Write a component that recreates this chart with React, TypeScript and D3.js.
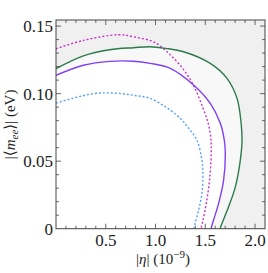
import React from "react";
import * as d3 from "d3";

// data: [ |eta| (1e-9), |<m_ee>| (eV) ]
const greenCurve: [number, number][] = [
  [0, 0.1185], [0.275, 0.128], [0.54, 0.1325], [0.78, 0.134], [0.946, 0.1347], [1.1, 0.1335],
  [1.281, 0.131], [1.55, 0.1224], [1.718, 0.1113], [1.819, 0.0965], [1.859, 0.0788],
  [1.869, 0.0655], [1.852, 0.0508], [1.802, 0.031], [1.734, 0.0162], [1.668, 0.004], [1.648, 0],
];
const purpleCurve: [number, number][] = [
  [0, 0.1135], [0.275, 0.121], [0.54, 0.1239], [0.78, 0.124], [0.946, 0.1224], [1.148, 0.1187],
  [1.382, 0.1064], [1.55, 0.0928], [1.651, 0.078], [1.691, 0.0655], [1.701, 0.0557],
  [1.684, 0.036], [1.634, 0.0188], [1.583, 0.0064], [1.557, 0],
];
const magentaCurve: [number, number][] = [
  [0, 0.1332], [0.275, 0.1394], [0.627, 0.1436], [0.785, 0.142], [0.986, 0.1381], [1.154, 0.1283],
  [1.288, 0.1172], [1.389, 0.1049], [1.473, 0.0901], [1.53, 0.0778], [1.557, 0.0655],
  [1.56, 0.0557], [1.543, 0.036], [1.51, 0.0188], [1.477, 0.0064], [1.456, 0],
];
const blueCurve: [number, number][] = [
  [0, 0.093], [0.376, 0.1], [0.6, 0.1003], [0.785, 0.0987], [0.946, 0.0965], [1.114, 0.0895],
  [1.248, 0.0818], [1.332, 0.0744], [1.416, 0.0655], [1.466, 0.0508], [1.476, 0.041],
  [1.466, 0.0261], [1.433, 0.0138], [1.398, 0.004], [1.385, 0],
];

const xMajorTicks = [0.5, 1.0, 1.5, 2.0];
const xTickLabels = ["0.5", "1.0", "1.5", "2.0"];
const yMajorTicks = [0, 0.05, 0.1, 0.15];
const yTickLabels = ["0", "0.05", "0.10", "0.15"];

const W = 268, H = 273;
const L = 56, R = 265, T = 20, B = 228.7;

export default function App() {
  const x = d3.scaleLinear().domain([0, 2.1]).range([L, R]);
  const y = d3.scaleLinear().domain([0, 0.1545]).range([B, T]);
  const line = d3.line<[number, number]>().x(d => x(d[0])).y(d => y(d[1])).curve(d3.curveCatmullRom.alpha(0.5));
  const region = (c: [number, number][]) => line(c) + `L${x(0)},${y(0)}Z`;

  const xMinor = d3.range(1, 21).map(i => i / 10);
  const yMinor = d3.range(1, 16).map(i => i / 100);
  const isMajorX = (v: number) => Math.abs(v * 2 - Math.round(v * 2)) < 1e-6;
  const isMajorY = (v: number) => Math.abs(v * 20 - Math.round(v * 20)) < 1e-6;
  const fontStyle = { fontFamily: '"Liberation Serif", "Times New Roman", "DejaVu Serif", serif' };
  const frame = "#444";

  return (
    <svg width={W} height={H} style={{ position: "fixed", left: 0, top: 0, background: "#fff" }}>
      <defs>
        <clipPath id="pc"><rect x={L} y={T} width={R - L} height={B - T} /></clipPath>
      </defs>
      <g clipPath="url(#pc)">
        <rect x={L} y={T} width={R - L} height={B - T} fill="#f0f0f0" />
        <path d={region(greenCurve)} fill="#f8f8f8" />
        <path d={region(purpleCurve)} fill="#ffffff" />
        <path d={line(blueCurve)!} fill="none" stroke="#5a9fff" strokeWidth={1.4} strokeDasharray="2,2" />
        <path d={line(magentaCurve)!} fill="none" stroke="#c832c8" strokeWidth={1.4} strokeDasharray="2,2" />
        <path d={line(purpleCurve)!} fill="none" stroke="#7f3ff5" strokeWidth={1.4} />
        <path d={line(greenCurve)!} fill="none" stroke="#2b7a4b" strokeWidth={1.4} />
      </g>
      <rect x={L} y={T} width={R - L} height={B - T} fill="none" stroke={frame} strokeWidth={1} />
      {xMinor.map(v => {
        const len = isMajorX(v) ? 5 : 3;
        return (
          <g key={"x" + v}>
            <line x1={x(v)} x2={x(v)} y1={B} y2={B - len} stroke={frame} strokeWidth={0.8} />
            <line x1={x(v)} x2={x(v)} y1={T} y2={T + len} stroke={frame} strokeWidth={0.8} />
          </g>
        );
      })}
      {yMinor.map(v => {
        const len = isMajorY(v) ? 5 : 3;
        return (
          <g key={"y" + v}>
            <line x1={L} x2={L + len} y1={y(v)} y2={y(v)} stroke={frame} strokeWidth={0.8} />
            <line x1={R} x2={R - len} y1={y(v)} y2={y(v)} stroke={frame} strokeWidth={0.8} />
          </g>
        );
      })}
      <g style={fontStyle} fill="#222">
        {xMajorTicks.map((v, i) => (
          <text key={"xl" + v} x={x(v)} y={B + 17} textAnchor="middle" fontSize={17}>
            {xTickLabels[i]}
          </text>
        ))}
        {yMajorTicks.map((v, i) => (
          <text key={"yl" + v} x={L - 3} y={y(v) + 6} textAnchor="end" fontSize={17}>
            {yTickLabels[i]}
          </text>
        ))}
        <text x={163} y={264} textAnchor="middle" fontSize={15}>
          |<tspan fontStyle="italic">η</tspan>|{"  "}(10<tspan dy={-6} fontSize={11}>−9</tspan><tspan dy={6}>)</tspan>
        </text>
        <text transform={`translate(15, ${(T + B) / 2}) rotate(-90)`} textAnchor="middle" fontSize={15}>
          |⟨<tspan fontStyle="italic">m</tspan><tspan fontStyle="italic" fontSize={11} dy={3}>ee</tspan><tspan dy={-3}>⟩|</tspan>{"  "}(eV)
        </text>
      </g>
    </svg>
  );
}
